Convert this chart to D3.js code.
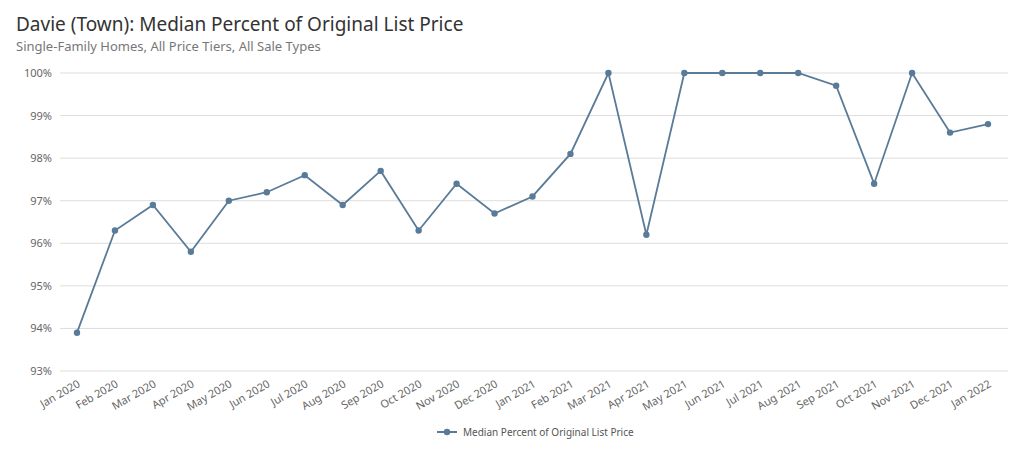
<!DOCTYPE html>
<html>
<head>
<meta charset="utf-8">
<script src="https://cdn.jsdelivr.net/npm/d3@7"></script>
<style>
  body { margin: 0; background: #fff; font-family: "Noto Sans", "Open Sans", sans-serif; }
</style>
</head>
<body>
<div id="vis"></div>
<script>
var months = ['Jan 2020', 'Feb 2020', 'Mar 2020', 'Apr 2020', 'May 2020', 'Jun 2020', 'Jul 2020',
  'Aug 2020', 'Sep 2020', 'Oct 2020', 'Nov 2020', 'Dec 2020', 'Jan 2021', 'Feb 2021', 'Mar 2021',
  'Apr 2021', 'May 2021', 'Jun 2021', 'Jul 2021', 'Aug 2021', 'Sep 2021', 'Oct 2021', 'Nov 2021',
  'Dec 2021', 'Jan 2022'];
var values = [93.9, 96.3, 96.9, 95.8, 97.0, 97.2, 97.6, 96.9, 97.7, 96.3, 97.4, 96.7, 97.1, 98.1,
  100, 96.2, 100, 100, 100, 100, 99.7, 97.4, 100, 98.6, 98.8];
var yTicks = [93, 94, 95, 96, 97, 98, 99, 100];

var width = 1024;
var height = 469;
var color = '#5a7b98';

var svg = d3.select('#vis').append('svg')
  .attr('width', width)
  .attr('height', height);

svg.append('text').attr('x', 16).attr('y', 31)
  .style('font-size', '19px').style('fill', '#333')
  .text('Davie (Town): Median Percent of Original List Price');
svg.append('text').attr('x', 16).attr('y', 51)
  .style('font-size', '13px').style('fill', '#777')
  .text('Single-Family Homes, All Price Tiers, All Sale Types');

var x = d3.scalePoint().domain(months).range([77, 988]);
var y = d3.scaleLinear().domain([93, 100]).range([371, 73]);

// grid
svg.selectAll('line.grid').data(yTicks).enter().append('line')
  .attr('x1', 60).attr('x2', 1008)
  .attr('y1', function(d) { return y(d); })
  .attr('y2', function(d) { return y(d); })
  .style('stroke', '#ddd').style('stroke-width', 1);

svg.selectAll('text.ylab').data(yTicks).enter().append('text')
  .attr('x', 52).attr('y', function(d) { return y(d) + 4; })
  .attr('text-anchor', 'end')
  .style('font-size', '11px').style('fill', '#666')
  .text(function(d) { return d + '%'; });

svg.selectAll('text.xlab').data(months).enter().append('text')
  .attr('transform', function(d) { return 'translate(' + (x(d) + 4) + ',386) rotate(-30)'; })
  .attr('text-anchor', 'end')
  .style('font-size', '11px').style('fill', '#666')
  .text(function(d) { return d; });

var line = d3.line()
  .x(function(d, i) { return x(months[i]); })
  .y(function(d) { return y(d); });

svg.append('path').datum(values)
  .attr('d', line)
  .style('fill', 'none').style('stroke', color).style('stroke-width', 1.8);

svg.selectAll('circle.pt').data(values).enter().append('circle')
  .attr('cx', function(d, i) { return x(months[i]); })
  .attr('cy', function(d) { return y(d); })
  .attr('r', 3.2)
  .style('fill', color);

// legend
var lg = svg.append('g').attr('transform', 'translate(437,432)');
lg.append('line').attr('x1', 0).attr('x2', 20).attr('y1', 0).attr('y2', 0)
  .style('stroke', color).style('stroke-width', 2);
lg.append('circle').attr('cx', 10).attr('cy', 0).attr('r', 3.2).style('fill', color);
lg.append('text').attr('x', 26).attr('y', 4)
  .style('font-size', '10px').style('fill', '#555')
  .text('Median Percent of Original List Price');
</script>
</body>
</html>
